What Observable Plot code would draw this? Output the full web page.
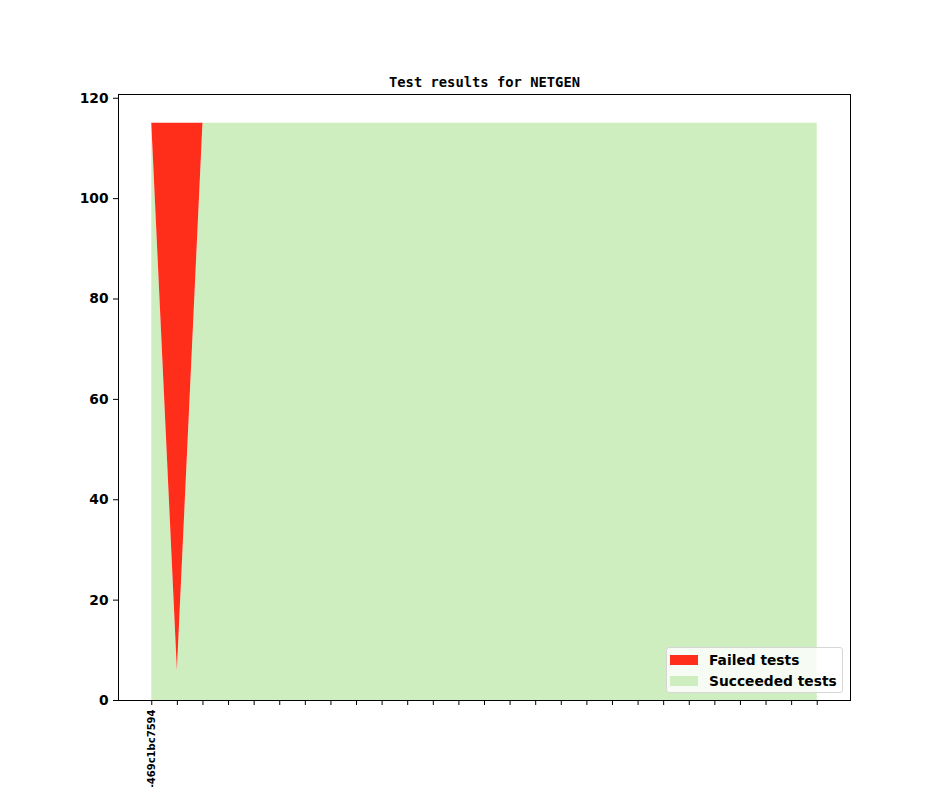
<!DOCTYPE html>
<html>
<head>
<meta charset="utf-8">
<script src="https://cdn.jsdelivr.net/npm/d3@7"></script>
<script src="https://cdn.jsdelivr.net/npm/@observablehq/plot@0.6"></script>
<style>
  html, body { margin: 0; padding: 0; background: #fff; }
  #wrap { position: relative; width: 944px; height: 787px; overflow: hidden; }
  #legend {
    position: absolute; left: 666px; top: 647px; width: 175px; height: 44px;
    background: rgba(255,255,255,0.8); border: 1px solid #d6d6d6; border-radius: 3px;
    font-family: "DejaVu Sans", sans-serif; font-weight: bold; font-size: 13.8px; color: #000;
  }
  .item { position: absolute; left: 3px; height: 12px; display: flex; align-items: center; }
  .sw { width: 28px; height: 10px; margin-right: 11px; }
</style>
</head>
<body>
<div id="wrap"></div>
<script>
const title = "Test results for NETGEN";
const tickLabels = ["-469c1bc7594", "", "", "", "", "", "", "", "", "", "", "", "", "", "", "", "", "", "", "", "", "", "", "", "", "", ""];
const failed =    [0, 109, 0, 0, 0, 0, 0, 0, 0, 0, 0, 0, 0, 0, 0, 0, 0, 0, 0, 0, 0, 0, 0, 0, 0, 0, 0];
const succeeded = [115, 6, 115, 115, 115, 115, 115, 115, 115, 115, 115, 115, 115, 115, 115, 115, 115, 115, 115, 115, 115, 115, 115, 115, 115, 115, 115];
const seriesNames = ["Failed tests", "Succeeded tests"];
const colors = ["#ff2e1a", "#cfeec0"];
const yTicks = [0, 20, 40, 60, 80, 100, 120];

const idx = d3.range(succeeded.length);
const rows = idx.map(i => ({i, s: succeeded[i], t: succeeded[i] + failed[i]}));
const n = idx.length - 1;
const pad = n * 0.05;
const ymax = d3.max(rows, d => d.t) * 1.05;

const chart = Plot.plot({
  width: 944, height: 787,
  marginLeft: 118, marginRight: 94, marginTop: 94, marginBottom: 87,
  style: {fontFamily: "DejaVu Sans, sans-serif", background: "#fff", color: "#000"},
  x: {type: "linear", domain: [-pad, n + pad]},
  y: {domain: [0, ymax]},
  marks: [
    Plot.areaY(rows, {x: "i", y1: 0, y2: "s", fill: colors[1], curve: "linear"}),
    Plot.areaY(rows, {x: "i", y1: "s", y2: "t", fill: colors[0], curve: "linear"}),
    Plot.frame({stroke: "#000", strokeWidth: 1}),
    Plot.axisY({ticks: yTicks, tickSize: 5, tickPadding: 5, tickFormat: d3.format("d"),
      fontSize: 13.8, fontWeight: "bold", label: null}),
    Plot.axisX({ticks: idx, tickSize: 5, tickPadding: 4, tickRotate: -90,
      tickFormat: i => tickLabels[i], fontSize: 10, fontWeight: "bold", label: null}),
    Plot.text([title], {frameAnchor: "top", dy: -8, text: d => d, lineAnchor: "bottom",
      fontFamily: "DejaVu Sans Mono, monospace", fontWeight: "bold", fontSize: 13.8, fill: "#000"})
  ]
});
const wrap = document.getElementById("wrap");
wrap.appendChild(chart);

const legend = document.createElement("div");
legend.id = "legend";
seriesNames.forEach((name, k) => {
  const it = document.createElement("div");
  it.className = "item";
  it.style.top = (6 + k * 21) + "px";
  const sw = document.createElement("div");
  sw.className = "sw";
  sw.style.background = colors[k];
  const tx = document.createElement("span");
  tx.textContent = name;
  it.appendChild(sw); it.appendChild(tx);
  legend.appendChild(it);
});
wrap.appendChild(legend);
</script>
</body>
</html>
